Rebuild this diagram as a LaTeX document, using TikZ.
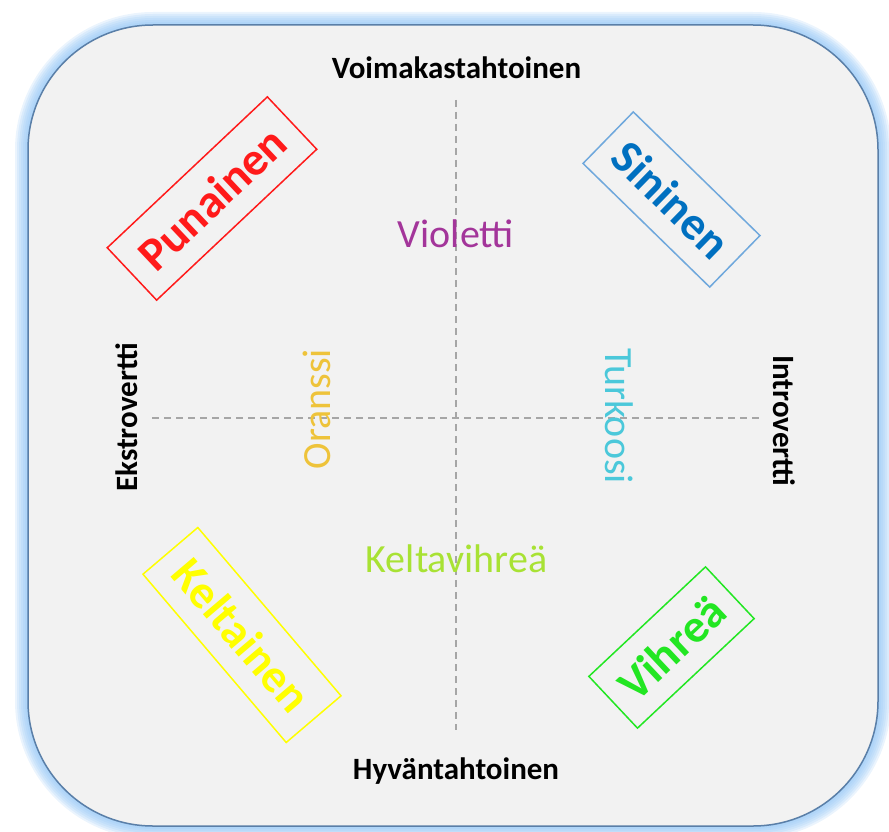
\documentclass[tikz,border=0pt]{standalone}
\usepackage{fontspec}
\setmainfont{Carlito}
\usetikzlibrary{positioning}
\definecolor{panel}{HTML}{F2F2F2}
\definecolor{panelrim}{HTML}{5A7FA8}
\definecolor{glow}{HTML}{8EC3F5}
\definecolor{axisgray}{HTML}{A6A6A6}
\definecolor{punainen}{HTML}{FF1A1A}
\definecolor{sininen}{HTML}{0070C0}
\definecolor{sininenrim}{HTML}{6FA8DC}
\definecolor{keltainen}{HTML}{FFFF00}
\definecolor{vihrea}{HTML}{22E622}
\definecolor{violetti}{HTML}{A3359A}
\definecolor{oranssi}{HTML}{EEC33A}
\definecolor{turkoosi}{HTML}{4BC8DA}
\definecolor{keltavihrea}{HTML}{A8E234}

\begin{document}
\begin{tikzpicture}[
  x=1pt,y=-1pt,
  axisline/.style={draw=axisgray,line width=1.2pt,dash pattern=on 7pt off 5pt},
  pole/.style={font=\fontsize{31}{37}\selectfont\bfseries,anchor=base,inner sep=0pt},
  mix/.style={font=\fontsize{40}{48}\selectfont,anchor=base,inner sep=0pt},
  colorbox/.style={draw,line width=1.5pt,minimum height=72pt,inner sep=0pt,
    font=\fontsize{47}{55}\selectfont\bfseries}
]
\useasboundingbox (0,0) rectangle (889,832);
% panel with soft glow
\foreach \w in {26,22,...,2}
  \draw[glow,line width=\w pt,opacity=0.18,rounded corners=125pt] (28,25) rectangle (878,826);
\fill[panel,rounded corners=125pt] (28,25) rectangle (878,826);
\draw[panelrim,line width=1.5pt,rounded corners=125pt] (28,25) rectangle (878,826);
% axes
\coordinate (west) at (152,418);
\coordinate (east) at (762,418);
\coordinate (north) at (456,100);
\coordinate (south) at (456,730);
\draw[axisline] (west) -- (east);
\draw[axisline] (north) -- (south);
% poles
\node[pole] (voima) at (456.5,79) {Voimakastahtoinen};
\node[pole] (hyva) at (456,779) {Hyväntahtoinen};
\node[pole,rotate=90] (ekstro) at (137,417.5) {Ekstrovertti};
\node[pole,rotate=-90] (intro) at (773,421) {Introvertti};
% mixed colours
\node[mix,text=violetti] (violetti) at (456,247) {Violetti};
\node[mix,text=keltavihrea] (keltavihrea) at (456.5,572) {Keltavihreä};
\node[mix,text=oranssi,rotate=90] (oranssi) at (330,409) {Oranssi};
\node[mix,text=turkoosi,rotate=-90] (turkoosi) at (605,416) {Turkoosi};
% main colours
\node[colorbox,draw=punainen,text=punainen,minimum width=220pt,rotate=43.3] (punainen) at (212,198.5) {Punainen};
\node[colorbox,draw=sininenrim,text=sininen,minimum width=177pt,rotate=-44.3] (sininen) at (671.5,199.5) {Sininen};
\node[colorbox,draw=keltainen,text=keltainen,minimum width=221pt,rotate=-49.6] (keltainen) at (242,635) {Keltainen};
\node[colorbox,draw=vihrea,text=vihrea,minimum width=160pt,minimum height=71pt,rotate=43.2] (vihrea) at (671.5,647.5) {Vihreä};
\end{tikzpicture}
\end{document}
